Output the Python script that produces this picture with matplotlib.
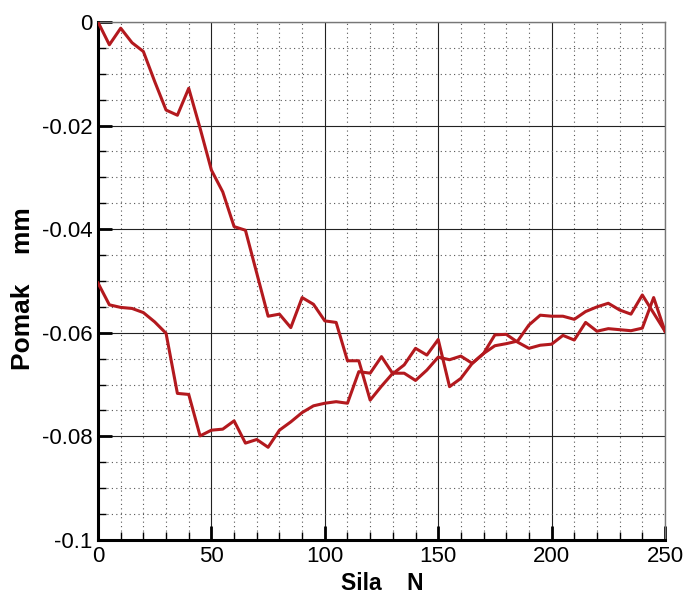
import numpy as np
import matplotlib
matplotlib.use('Agg')
import matplotlib.pyplot as plt
from matplotlib.ticker import MultipleLocator

RED = '#b3191e'

sila = list(range(0, 255, 5))

# loading branch (starts at 0)
pomak_a = [0.0, -0.0044, -0.0012, -0.0040, -0.0057, -0.0115, -0.0170, -0.0180, -0.0128, -0.0205,
           -0.0286, -0.0328, -0.0395, -0.0402, -0.0485, -0.0568, -0.0564, -0.0590, -0.0532, -0.0545,
           -0.0577, -0.0580, -0.0654, -0.0654, -0.0730, -0.0703, -0.0678, -0.0678, -0.0692, -0.0672,
           -0.0647, -0.0652, -0.0645, -0.0659, -0.0640, -0.0625, -0.0621, -0.0616, -0.0585, -0.0566,
           -0.0568, -0.0568, -0.0574, -0.0559, -0.0550, -0.0543, -0.0556, -0.0564, -0.0527, -0.0562,
           -0.0597]

# second branch (starts at -0.05)
pomak_b = [-0.0504, -0.0546, -0.0551, -0.0553, -0.0561, -0.0579, -0.0601, -0.0717, -0.0719, -0.0799,
           -0.0788, -0.0786, -0.0770, -0.0813, -0.0806, -0.0821, -0.0788, -0.0772, -0.0754, -0.0741,
           -0.0736, -0.0733, -0.0736, -0.0675, -0.0678, -0.0646, -0.0679, -0.0662, -0.0630, -0.0643,
           -0.0613, -0.0704, -0.0688, -0.0659, -0.0640, -0.0604, -0.0603, -0.0618, -0.0630, -0.0624,
           -0.0622, -0.0605, -0.0614, -0.0580, -0.0597, -0.0592, -0.0594, -0.0596, -0.0591, -0.0532,
           -0.0597]

yticks = [0, -0.02, -0.04, -0.06, -0.08, -0.1]
ytick_labels = ['0', '-0.02', '-0.04', '-0.06', '-0.08', '-0.1']

plt.rcParams['font.family'] = ['Liberation Sans', 'DejaVu Sans']

fig = plt.figure(figsize=(6.84, 5.99), dpi=100)
ax = fig.add_axes([0.1433, 0.0985, 0.8289, 0.8648])

ax.plot(sila, pomak_a, color=RED, linewidth=2.2, zorder=3)
ax.plot(sila, pomak_b, color=RED, linewidth=2.2, zorder=3)

ax.set_xlim(0, 250)
ax.set_ylim(-0.1, 0)
ax.xaxis.set_major_locator(MultipleLocator(50))
ax.xaxis.set_minor_locator(MultipleLocator(10))
ax.yaxis.set_minor_locator(MultipleLocator(0.005))
ax.set_yticks(yticks)
ax.set_yticklabels(ytick_labels)

ax.grid(which='major', color='#222222', linestyle='-', linewidth=0.8)
ax.grid(which='minor', color='#555555', linestyle=(0, (1, 3)), linewidth=0.8)

ax.tick_params(which='major', direction='in', length=10, width=2, labelsize=16, pad=4)
ax.tick_params(which='minor', direction='in', length=6, width=1)
ax.tick_params(top=False, right=False)

for side in ['left', 'bottom']:
    ax.spines[side].set_linewidth(2.2)
    ax.spines[side].set_color('black')
for side in ['top', 'right']:
    ax.spines[side].set_linewidth(1.0)
    ax.spines[side].set_color('#777777')

# axis titles placed where they sit in the original
fig.text(382 / 684, 1 - 584 / 599, 'Sila    N', fontsize=16.5, fontweight='bold',
         ha='center', va='center')
fig.text(23 / 684, 1 - 289 / 599, 'Pomak    mm', fontsize=19, fontweight='bold',
         ha='center', va='center', rotation=90)

fig.savefig('out.png', dpi=100)
